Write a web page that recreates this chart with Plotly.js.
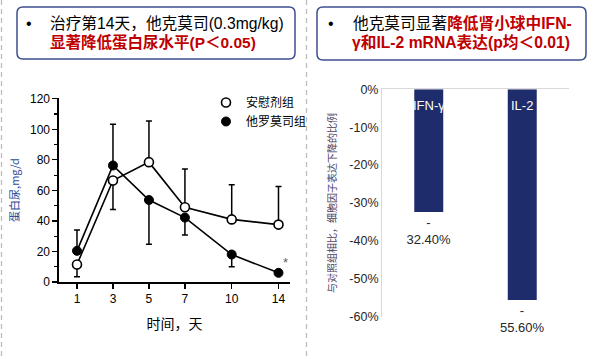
<!DOCTYPE html>
<html><head><meta charset="utf-8">
<script src="https://cdn.plot.ly/plotly-3.0.1.min.js"></script>
<style>html,body{margin:0;padding:0;background:#fff}#chart{width:595px;height:359px}</style>
</head><body><div id="chart"></div>
<script>
// ---- Left chart data ----
const days = ['1','3','5','7','10','14'];
const dayPos = [0, 1, 2, 3, 4.3, 5.6]; // original figure's uneven x scale
const placebo = [11.5, 66.5, 78.5, 49, 41, 37.6];
const placeboErrUp = [0, 0, 27, 25, 22.7, 25];
const placeboErrDown = [8, 19, 0, 0, 0, 0];
const drug = [20.4, 76.3, 53.7, 42.2, 18, 6];
const drugErrUp = [13.6, 27, 0, 0, 0, 0];
const drugErrDown = [0, 0, 29, 11.5, 8, 0];
const placeboName = '安慰剂组';
const drugName = '他罗莫司组';

// ---- Right chart data ----
const cytokines = ['IFN-γ', 'IL-2'];
const reduction = [-32.4, -55.6];
const pctTicks = [0, -10, -20, -30, -40, -50, -60];

const W = 595, H = 359;
const px = x => x / W, py = y => 1 - y / H;

function roundRect(x0, y0, x1, y1, r) {
  const X = v => px(v).toFixed(5), Y = v => py(v).toFixed(5);
  return `M${X(x0 + r)},${Y(y0)} L${X(x1 - r)},${Y(y0)} Q${X(x1)},${Y(y0)} ${X(x1)},${Y(y0 + r)} ` +
    `L${X(x1)},${Y(y1 - r)} Q${X(x1)},${Y(y1)} ${X(x1 - r)},${Y(y1)} L${X(x0 + r)},${Y(y1)} ` +
    `Q${X(x0)},${Y(y1)} ${X(x0)},${Y(y1 - r)} L${X(x0)},${Y(y0 + r)} Q${X(x0)},${Y(y0)} ${X(x0 + r)},${Y(y0)} Z`;
}

const lineStyle = {color: '#000', width: 1.6};
const latin = '"Liberation Sans", Arial, sans-serif';
const mixed = '"Liberation Sans", Arial, "Noto Sans CJK SC", sans-serif';
const cjk = '"Noto Sans CJK SC", "Liberation Sans", Arial, sans-serif';

const traces = [
  {x: dayPos, y: placebo, mode: 'lines', line: lineStyle, showlegend: false, xaxis: 'x', yaxis: 'y', hoverinfo: 'skip'},
  {x: dayPos, y: drug, mode: 'lines', line: lineStyle, showlegend: false, xaxis: 'x', yaxis: 'y', hoverinfo: 'skip'},
  {x: dayPos, y: placebo, mode: 'markers', name: placeboName, xaxis: 'x', yaxis: 'y',
   marker: {symbol: 'circle', size: 9, color: '#fff', line: {color: '#000', width: 1.6}},
   error_y: {type: 'data', symmetric: false, array: placeboErrUp, arrayminus: placeboErrDown, color: '#000', thickness: 1.5, width: 3}},
  {x: dayPos, y: drug, mode: 'markers', name: drugName, xaxis: 'x', yaxis: 'y',
   marker: {symbol: 'circle', size: 9, color: '#000', line: {color: '#000', width: 1}},
   error_y: {type: 'data', symmetric: false, array: drugErrUp, arrayminus: drugErrDown, color: '#000', thickness: 1.5, width: 3}},
  {x: cytokines, y: reduction, type: 'bar', xaxis: 'x2', yaxis: 'y2', showlegend: false,
   marker: {color: '#1f2c6b'},
   text: reduction.map(v => (v < 0 ? '-<br>' : '') + Math.abs(v).toFixed(2) + '%'),
   textposition: 'outside', cliponaxis: false, constraintext: 'none',
   textfont: {family: latin, size: 13, color: '#262626'}}
];

const annotations = [
  {xref: 'paper', yref: 'paper', x: px(24), y: py(24), text: '•', showarrow: false, xanchor: 'left', yanchor: 'middle', font: {family: latin, size: 16, color: '#000'}},
  {xref: 'paper', yref: 'paper', x: px(48), y: py(24), text: '治疗第14天，他克莫司(0.3mg/kg)', showarrow: false, xanchor: 'left', yanchor: 'middle', font: {family: mixed, size: 15.7, color: '#000'}},
  {xref: 'paper', yref: 'paper', x: px(48), y: py(43), text: '<b>显著降低蛋白尿水平(P＜0.05)</b>', showarrow: false, xanchor: 'left', yanchor: 'middle', font: {family: mixed, size: 15.5, color: '#c00000'}},
  {xref: 'paper', yref: 'paper', x: px(326), y: py(24), text: '•', showarrow: false, xanchor: 'left', yanchor: 'middle', font: {family: latin, size: 16, color: '#000'}},
  {xref: 'paper', yref: 'paper', x: px(351), y: py(24), text: '他克莫司显著<b><span style="color:#c00000">降低肾小球中IFN-</span></b>', showarrow: false, xanchor: 'left', yanchor: 'middle', font: {family: mixed, size: 15.7, color: '#000'}},
  {xref: 'paper', yref: 'paper', x: px(350), y: py(43), text: '<b>γ和IL-2 mRNA表达(p均＜0.01)</b>', showarrow: false, xanchor: 'left', yanchor: 'middle', font: {family: mixed, size: 15.7, color: '#c00000'}},
  {xref: 'x', yref: 'y', x: dayPos[5], y: drug[5], text: '*', showarrow: false, xshift: 7, yshift: 10, font: {family: latin, size: 13, color: '#666'}}
];
// category labels drawn in white at the top of each bar
cytokines.forEach(c => annotations.push({
  xref: 'x2', yref: 'y2', x: c, y: 0, text: c, showarrow: false, xanchor: 'center', yanchor: 'top', yshift: -7,
  font: {family: latin, size: 13, color: '#fff'}
}));

const layout = {
  width: W, height: H, autosize: false,
  margin: {l: 0, r: 0, t: 0, b: 0},
  paper_bgcolor: '#fff', plot_bgcolor: 'rgba(0,0,0,0)',
  font: {family: cjk, color: '#000'},
  bargap: 0.69,
  xaxis: {
    domain: [px(59), px(290)], anchor: 'y', range: [-0.5, 5.92],
    tickvals: dayPos, ticktext: days, ticks: 'outside', ticklen: 5, tickwidth: 1.3, tickcolor: '#000',
    showline: true, linecolor: '#000', linewidth: 1.6, showgrid: false, zeroline: false,
    tickfont: {family: latin, size: 12, color: '#000'},
    title: {text: '时间，天', font: {family: cjk, size: 14, color: '#000'}, standoff: 14}
  },
  yaxis: {
    domain: [py(282), py(98)], anchor: 'x', range: [0, 120.5],
    tickvals: [0, 20, 40, 60, 80, 100, 120], ticks: 'outside', ticklen: 5, tickwidth: 1.3, tickcolor: '#000',
    minor: {dtick: 10, tick0: 0, ticks: 'outside', ticklen: 3, tickwidth: 1.2, tickcolor: '#000', showgrid: false},
    showline: true, linecolor: '#000', linewidth: 1.6, showgrid: false, zeroline: false,
    tickfont: {family: latin, size: 12, color: '#000'},
    title: {text: '蛋白尿,mg/d', font: {family: cjk, size: 11, color: '#2a4d9b'}, standoff: 8}
  },
  xaxis2: {
    domain: [px(382), px(569)], anchor: 'y2', side: 'top', showticklabels: false,
    showline: true, linecolor: '#d9d9d9', linewidth: 1, ticks: '', showgrid: false, zeroline: false
  },
  yaxis2: {
    domain: [py(316.7), py(89.3)], anchor: 'x2', range: [-60, 0],
    tickvals: pctTicks, ticktext: pctTicks.map(v => v + '%'), showgrid: false, zeroline: false,
    showline: true, linecolor: '#d9d9d9', linewidth: 1, ticks: '',
    tickfont: {family: latin, size: 12.5, color: '#262626'},
    title: {text: '与对照组相比，细胞因子表达下降的比例', font: {family: cjk, size: 10, color: '#4a3d5e'}, standoff: 10}
  },
  legend: {
    x: px(206), y: py(88), xanchor: 'left', yanchor: 'top', bgcolor: 'rgba(0,0,0,0)',
    font: {family: cjk, size: 12, color: '#000'}, itemwidth: 30, tracegroupgap: 4
  },
  shapes: [
    {type: 'path', xref: 'paper', yref: 'paper', path: roundRect(17, 7, 295, 59, 6), line: {color: '#3b4f8f', width: 1.5}, fillcolor: 'rgba(0,0,0,0)'},
    {type: 'path', xref: 'paper', yref: 'paper', path: roundRect(317, 7, 586, 60, 6), line: {color: '#3b4f8f', width: 1.5}, fillcolor: 'rgba(0,0,0,0)'},
    {type: 'line', xref: 'paper', yref: 'paper', x0: px(1.5), x1: px(1.5), y0: py(0), y1: py(356), line: {color: '#bdbdbd', width: 1.3, dash: '5px,4px'}},
    {type: 'line', xref: 'paper', yref: 'paper', x0: px(306.5), x1: px(306.5), y0: py(0), y1: py(356), line: {color: '#bdbdbd', width: 1.3, dash: '5px,4px'}}
  ],
  annotations: annotations
};

Plotly.newPlot('chart', traces, layout, {staticPlot: true, displayModeBar: false});
</script></body></html>
